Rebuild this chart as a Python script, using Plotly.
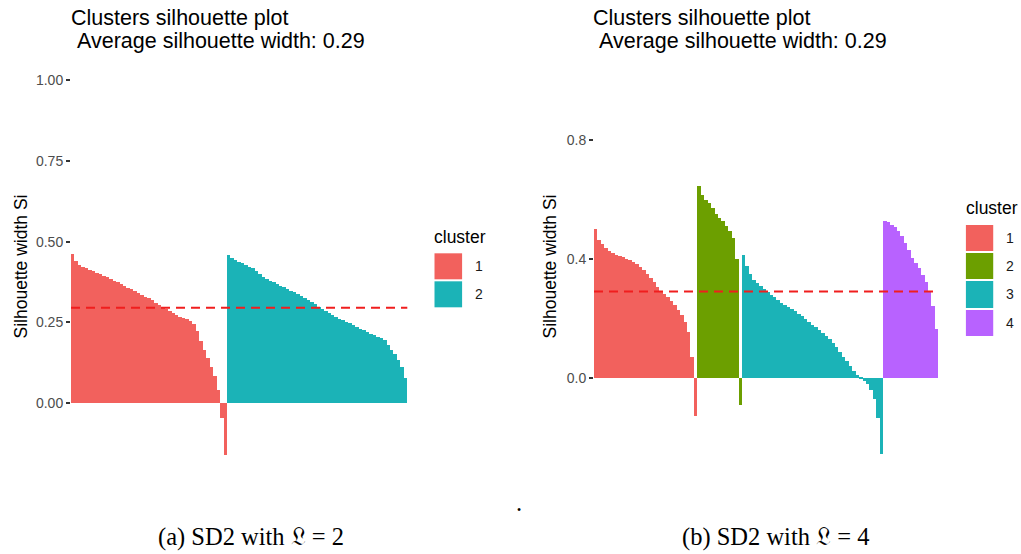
import plotly.graph_objects as go

# ---------------- data: panel (a)  SD2 with L = 2 ----------------
a_clusters = ["1", "2"]
a_sil_c1 = [0.462, 0.440, 0.428, 0.423, 0.418, 0.413, 0.409, 0.404, 0.399, 0.394,
            0.389, 0.384, 0.379, 0.374, 0.369, 0.364, 0.358, 0.353, 0.347, 0.341,
            0.336, 0.330, 0.324, 0.318, 0.311, 0.305, 0.299, 0.292, 0.285, 0.279,
            0.273, 0.268, 0.264, 0.260, 0.254, 0.245, 0.222, 0.193, 0.165, 0.140,
            0.112, 0.085, 0.040, -0.045, -0.160]
a_sil_c2 = [0.458, 0.450, 0.444, 0.438, 0.433, 0.428, 0.423, 0.418, 0.410, 0.401,
            0.392, 0.385, 0.379, 0.374, 0.369, 0.364, 0.359, 0.354, 0.348, 0.343,
            0.338, 0.332, 0.326, 0.320, 0.313, 0.306, 0.299, 0.292, 0.286, 0.279,
            0.273, 0.267, 0.262, 0.257, 0.252, 0.247, 0.241, 0.236, 0.230, 0.225,
            0.219, 0.214, 0.210, 0.206, 0.202, 0.196, 0.180, 0.166, 0.152, 0.134,
            0.112, 0.078]
a_avg_width = 0.295

# ---------------- data: panel (b)  SD2 with L = 4 ----------------
b_clusters = ["1", "2", "3", "4"]
b_sil_c1 = [0.500, 0.464, 0.450, 0.435, 0.425, 0.418, 0.414, 0.410, 0.405, 0.400,
            0.396, 0.389, 0.381, 0.372, 0.363, 0.350, 0.336, 0.321, 0.306, 0.293,
            0.282, 0.271, 0.259, 0.245, 0.228, 0.210, 0.188, 0.155, 0.070, -0.130]
b_sil_c2 = [0.645, 0.615, 0.598, 0.588, 0.570, 0.550, 0.538, 0.527, 0.510, 0.495,
            0.470, 0.400, -0.090]
b_sil_c3 = [0.412, 0.375, 0.350, 0.330, 0.318, 0.307, 0.297, 0.288, 0.279, 0.270,
            0.261, 0.253, 0.246, 0.239, 0.232, 0.225, 0.216, 0.207, 0.197, 0.188,
            0.179, 0.170, 0.160, 0.151, 0.142, 0.130, 0.117, 0.103, 0.087, 0.070,
            0.055, 0.038, 0.022, 0.008, -0.003, -0.010, -0.022, -0.042, -0.072,
            -0.135, -0.255]
b_sil_c4 = [0.528, 0.522, 0.515, 0.507, 0.494, 0.475, 0.452, 0.428, 0.404, 0.385,
            0.368, 0.347, 0.322, 0.292, 0.240, 0.165]
b_avg_width = 0.29

title_line1 = "Clusters silhouette plot"
title_line2 = "\u00a0Average silhouette width: 0.29"
y_title = "Silhouette width Si"
legend_title = "cluster"
caption_a = "(a) SD2 with \U0001D50F = 2"
caption_b = "(b) SD2 with \U0001D50F = 4"

colors_a = ["#F2615D", "#1BB3B7"]
colors_b = ["#F2615D", "#6C9F00", "#1BB3B7", "#B862FF"]

W, H = 1021, 554


def px(x):
    return x / W


def py(y):
    return 1 - y / H


fig = go.Figure()


def add_panel(series, colors, xa, ya):
    start = 1
    for vals, col in zip(series, colors):
        xs = list(range(start, start + len(vals)))
        fig.add_trace(go.Bar(x=xs, y=vals, marker=dict(color=col, line=dict(width=0)),
                             xaxis=xa, yaxis=ya, showlegend=False, hoverinfo="skip"))
        start += len(vals)
    return start - 1


na = add_panel([a_sil_c1, a_sil_c2], colors_a, "x", "y")
nb = add_panel([b_sil_c1, b_sil_c2, b_sil_c3, b_sil_c4], colors_b, "x2", "y2")


def legend_heatmap(labels, colors, xa, ya):
    n = len(labels)
    cs = []
    for i, c in enumerate(colors):
        cs.append([i / n, c])
        cs.append([(i + 1) / n, c])
    fig.add_trace(go.Heatmap(x=[0], y=labels, z=[[i] for i in range(n)],
                             zmin=-0.5, zmax=n - 0.5, colorscale=cs, showscale=False,
                             ygap=2, xaxis=xa, yaxis=ya, hoverinfo="skip"))


legend_heatmap(a_clusters, colors_a, "x3", "y3")
legend_heatmap(b_clusters, colors_b, "x4", "y4")

tick_font = dict(family="Liberation Sans, Arial, sans-serif", size=14, color="#4D4D4D")
title_font = dict(family="Liberation Sans, Arial, sans-serif", size=17.5, color="#000000")

ydom = [py(473), py(60)]

hidden_x = dict(showgrid=False, zeroline=False, showticklabels=False, showline=False, ticks="")

fig.update_layout(
    width=W, height=H,
    margin=dict(l=0, r=0, t=0, b=0),
    paper_bgcolor="white", plot_bgcolor="white",
    bargap=0, barmode="overlay",
    xaxis=dict(domain=[px(71), px(407.3)], range=[0.5, na + 0.5], **hidden_x),
    yaxis=dict(domain=ydom, range=[-0.216, 1.062], dtick=0.25, tick0=0, tickformat=".2f",
               showgrid=False, zeroline=False, ticks="outside", ticklen=4, tickwidth=1.6,
               tickcolor="#333333", tickfont=tick_font,
               title=dict(text=y_title, font=title_font, standoff=3)),
    xaxis2=dict(domain=[px(594), px(938.3)], range=[0.5, nb + 0.5], **hidden_x),
    yaxis2=dict(domain=ydom, range=[-0.32, 1.068], dtick=0.4, tick0=0, tickformat=".1f",
                showgrid=False, zeroline=False, ticks="outside", ticklen=4, tickwidth=1.6,
                tickcolor="#333333", tickfont=tick_font, anchor="x2",
                title=dict(text=y_title, font=title_font, standoff=5)),
    xaxis3=dict(domain=[px(434.3), px(462.3)], anchor="y3", **hidden_x),
    yaxis3=dict(domain=[py(308.3), py(252.3)], anchor="x3", side="right", autorange="reversed",
                type="category", showgrid=False, zeroline=False, showline=False,
                ticks="outside", ticklen=9, tickcolor="rgba(0,0,0,0)",
                tickfont=dict(family="Liberation Sans, Arial, sans-serif", size=14, color="#1A1A1A")),
    xaxis4=dict(domain=[px(965.7), px(993.3)], anchor="y4", **hidden_x),
    yaxis4=dict(domain=[py(336.7), py(224)], anchor="x4", side="right", autorange="reversed",
                type="category", showgrid=False, zeroline=False, showline=False,
                ticks="outside", ticklen=9, tickcolor="rgba(0,0,0,0)",
                tickfont=dict(family="Liberation Sans, Arial, sans-serif", size=14, color="#1A1A1A")),
)

# average silhouette width reference lines
for avg, xa, ya in [(a_avg_width, "x", "y"), (b_avg_width, "x2", "y2")]:
    fig.add_shape(type="line", xref=f"{xa} domain", yref=ya, x0=0, x1=1, y0=avg, y1=avg,
                  line=dict(color="#F01E1E", width=2, dash="9px,6px"))

head_font = dict(family="Liberation Sans, Arial, sans-serif", size=21.5, color="#000000")
ann = []
for x1, x2 in [(69, 69), (591.3, 591.3)]:
    ann.append(dict(text=title_line1, x=px(x1), y=py(17.5), xref="paper", yref="paper",
                    xanchor="left", yanchor="middle", showarrow=False, font=head_font))
    ann.append(dict(text=title_line2, x=px(x2), y=py(40.8), xref="paper", yref="paper",
                    xanchor="left", yanchor="middle", showarrow=False, font=head_font))
for x, y in [(432, 237), (963.7, 207.5)]:
    ann.append(dict(text=legend_title, x=px(x), y=py(y), xref="paper", yref="paper",
                    xanchor="left", yanchor="middle", showarrow=False, font=title_font))
cap_font = dict(family="Liberation Serif, Times New Roman, serif", size=24.5, color="#000000")
for text, x in [(caption_a, 250.8), (caption_b, 775.3)]:
    ann.append(dict(text=text, x=px(x), y=py(537), xref="paper", yref="paper",
                    xanchor="center", yanchor="middle", showarrow=False, font=cap_font))
ann.append(dict(text=".", x=px(519), y=py(502), xref="paper", yref="paper",
                xanchor="center", yanchor="middle", showarrow=False, font=cap_font))
fig.update_layout(annotations=ann)

fig.write_html("out.html")
